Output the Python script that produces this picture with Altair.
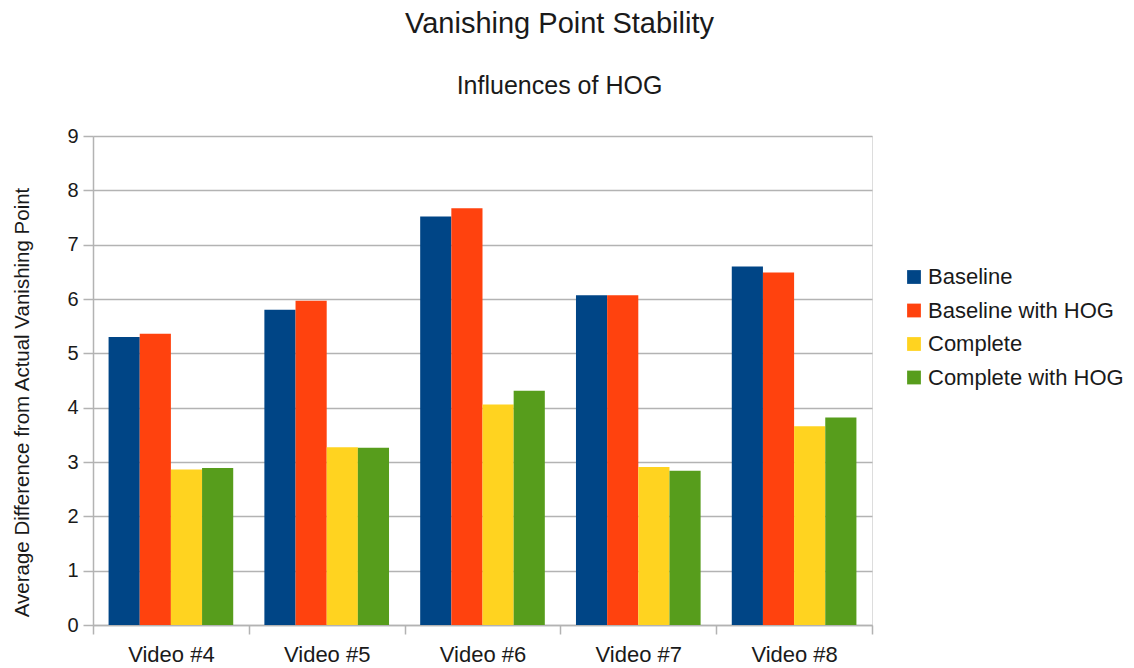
import altair as alt
import pandas as pd

# Videos on the x axis and the four detector variants
videos = ["Video #4", "Video #5", "Video #6", "Video #7", "Video #8"]
series = ["Baseline", "Baseline with HOG", "Complete", "Complete with HOG"]
colors = ["#004586", "#ff420e", "#ffd320", "#579d1c"]

baseline = [5.30, 5.80, 7.52, 6.07, 6.60]
baseline_hog = [5.36, 5.97, 7.67, 6.07, 6.49]
complete = [2.86, 3.27, 4.06, 2.91, 3.66]
complete_hog = [2.89, 3.26, 4.31, 2.84, 3.82]

values = [baseline, baseline_hog, complete, complete_hog]
rows = []
for name, vals in zip(series, values):
    for v, val in zip(videos, vals):
        rows.append({"video": v, "series": name, "value": val})
df = pd.DataFrame(rows)

FONT = "Liberation Sans"
GRID = "#b3b3b3"
TEXT = "#1a1a1a"

chart = (
    alt.Chart(df)
    .mark_bar()
    .encode(
        x=alt.X(
            "video:N",
            sort=videos,
            scale=alt.Scale(paddingInner=0, paddingOuter=0),
            axis=alt.Axis(
                title=None,
                labelAngle=0,
                labelFont=FONT,
                labelFontSize=22,
                labelColor=TEXT,
                labelPadding=10,
                tickBand="extent",
                tickSize=9,
                tickColor=GRID,
                tickWidth=1.5,
                domainColor=GRID,
                domainWidth=1.5,
                grid=False,
            ),
        ),
        xOffset=alt.XOffset(
            "series:N",
            sort=series,
            scale=alt.Scale(paddingInner=0, paddingOuter=0.5),
        ),
        y=alt.Y(
            "value:Q",
            scale=alt.Scale(domain=[0, 9], nice=False),
            axis=alt.Axis(
                title="Average Difference from Actual Vanishing Point",
                titleFont=FONT,
                titleFontSize=20.5,
                titleFontWeight="normal",
                titleColor=TEXT,
                titleAngle=270,
                titleAlign="center",
                titleBaseline="middle",
                titleX=-71,
                titleY=266,
                values=list(range(10)),
                labelFont=FONT,
                labelFontSize=20,
                labelColor=TEXT,
                labelPadding=5,
                tickSize=10,
                tickColor=GRID,
                tickWidth=1.5,
                domainColor=GRID,
                domainWidth=1.5,
                gridColor=GRID,
                gridWidth=1.5,
            ),
        ),
        color=alt.Color(
            "series:N",
            sort=series,
            scale=alt.Scale(domain=series, range=colors),
            legend=alt.Legend(
                title=None,
                orient="none",
                legendX=810,
                legendY=130,
                symbolType="square",
                symbolSize=190,
                symbolStrokeWidth=0,
                symbolOpacity=1,
                labelFont=FONT,
                labelFontSize=22,
                labelColor=TEXT,
                labelOffset=3,
                labelLimit=0,
                rowPadding=11.5,
            ),
        ),
    )
    .properties(
        width=779,
        height=489,
        title=alt.TitleParams(
            text="Vanishing Point Stability",
            subtitle="Influences of HOG",
            anchor="middle",
            dx=77,
            font=FONT,
            fontSize=29,
            fontWeight="normal",
            color=TEXT,
            subtitleFont=FONT,
            subtitleFontSize=25,
            subtitleColor=TEXT,
            subtitlePadding=35,
            offset=27,
        ),
        autosize=alt.AutoSizeParams(type="none"),
        padding={"left": 93, "top": 136, "right": 262, "bottom": 43},
    )
    .configure_view(stroke=GRID, strokeWidth=1.5)
    .configure(background="white")
)

chart.save("out.html", embed_options={"renderer": "svg", "actions": False})
